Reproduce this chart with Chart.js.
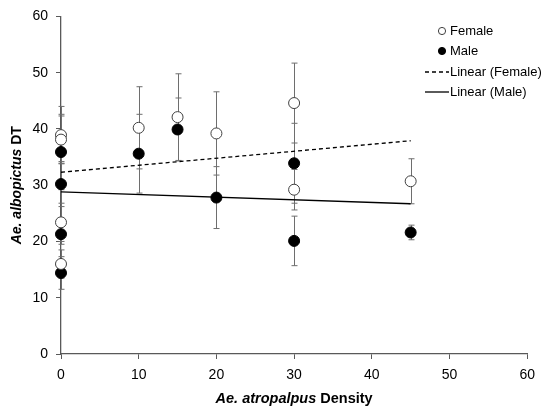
<!DOCTYPE html>
<html>
<head>
<meta charset="utf-8">
<script src="https://cdn.jsdelivr.net/npm/chart.js@4/dist/chart.umd.min.js"></script>
<style>
  body { margin: 0; background: #fff; }
  #wrap { width: 543px; height: 408px; }
</style>
</head>
<body>
<div id="wrap"><canvas id="myChart" width="543" height="408"></canvas></div>
<script>
// values
const femaleX = [0, 0, 0, 0, 10, 15, 20, 30, 30, 45];
const femaleY = [38.9, 38.1, 23.4, 16.0, 40.2, 42.1, 39.2, 44.6, 29.2, 30.7];
const femaleErr = [5.1, 4.2, 3.4, 2.5, 7.3, 7.7, 7.4, 7.1, 3.6, 4.0];

const maleX = [0, 0, 0, 0, 10, 15, 20, 30, 30, 45];
const maleY = [35.9, 30.2, 21.3, 14.4, 35.6, 39.9, 27.8, 33.9, 20.1, 21.6];
const maleErr = [6.7, 4.0, 1.8, 2.9, 7.0, 5.6, 5.5, 7.1, 4.4, 1.3];

// trendline ends
const trendX = [0, 45];
const femaleTrend = [32.3, 37.9];
const maleTrend = [28.8, 26.7];

const axisTicks = [0, 10, 20, 30, 40, 50, 60];

const FONT = "'Liberation Sans', Arial, sans-serif";
const AXIS_COLOR = '#595959';

function toPoints(xs, ys) {
  return xs.map((x, i) => ({ x: x, y: ys[i] }));
}

// error bars drawn under the markers
const errorBars = {
  id: 'errorBars',
  beforeDatasetsDraw(chart) {
    const ctx = chart.ctx;
    const xs = chart.scales.x;
    const ys = chart.scales.y;
    const sets = [[femaleX, femaleY, femaleErr], [maleX, maleY, maleErr]];
    ctx.save();
    ctx.strokeStyle = '#6e6e6e';
    ctx.lineWidth = 1;
    sets.forEach(s => {
      s[0].forEach((x, i) => {
        const px = Math.round(xs.getPixelForValue(x)) + 0.5;
        const top = ys.getPixelForValue(s[1][i] + s[2][i]);
        const bot = ys.getPixelForValue(s[1][i] - s[2][i]);
        ctx.beginPath();
        ctx.moveTo(px, top); ctx.lineTo(px, bot);
        ctx.moveTo(px - 3, top); ctx.lineTo(px + 3, top);
        ctx.moveTo(px - 3, bot); ctx.lineTo(px + 3, bot);
        ctx.stroke();
      });
    });
    ctx.restore();
  }
};

function drawParts(ctx, parts, cx, cy) {
  let total = 0;
  parts.forEach(p => { ctx.font = p.font; total += ctx.measureText(p.text).width; });
  let x = cx - total / 2;
  parts.forEach(p => {
    ctx.font = p.font;
    ctx.fillText(p.text, x, cy);
    x += ctx.measureText(p.text).width;
  });
}

// axis titles (mixed italic / normal) and the legend
const extras = {
  id: 'extras',
  afterDraw(chart) {
    const ctx = chart.ctx;
    const area = chart.chartArea;
    ctx.save();
    ctx.fillStyle = '#000';
    ctx.textBaseline = 'middle';
    ctx.textAlign = 'left';

    drawParts(ctx, [
      { text: 'Ae. atropalpus', font: 'italic bold 14.5px ' + FONT },
      { text: ' Density', font: 'bold 14.5px ' + FONT }
    ], (area.left + area.right) / 2, 399);

    ctx.save();
    ctx.translate(17, (area.top + area.bottom) / 2);
    ctx.rotate(-Math.PI / 2);
    drawParts(ctx, [
      { text: 'Ae. albopictus', font: 'italic bold 14px ' + FONT },
      { text: ' DT', font: 'bold 14px ' + FONT }
    ], 0, 0);
    ctx.restore();

    // legend
    const lx = 450;
    const rows = [31, 51, 72, 92];
    ctx.font = '13px ' + FONT;
    chart.data.datasets.forEach((ds, i) => {
      const y = rows[i];
      ctx.fillStyle = '#000';
      ctx.fillText(ds.label, lx, y);
      ctx.beginPath();
      if (ds.type === 'line') {
        ctx.strokeStyle = '#000';
        ctx.lineWidth = 1.3;
        ctx.setLineDash(ds.borderDash || []);
        ctx.moveTo(425, y); ctx.lineTo(449, y);
        ctx.stroke();
        ctx.setLineDash([]);
      } else {
        ctx.arc(442, y, 3.6, 0, Math.PI * 2);
        ctx.fillStyle = ds.backgroundColor;
        ctx.fill();
        ctx.strokeStyle = ds.borderColor;
        ctx.lineWidth = 1;
        ctx.stroke();
      }
    });
    ctx.restore();
  }
};

function axisOpts() {
  return {
    type: 'linear',
    min: 0,
    max: 60,
    afterBuildTicks: s => { s.ticks = axisTicks.map(v => ({ value: v })); },
    ticks: { color: '#000', padding: 8, font: { family: FONT, size: 14 } },
    grid: { drawOnChartArea: false, drawTicks: true, tickLength: 5, color: AXIS_COLOR },
    border: { display: true, color: AXIS_COLOR, width: 1.3 }
  };
}

const xOpts = axisOpts();
xOpts.afterFit = s => { s.height = 54; };
const yOpts = axisOpts();
yOpts.afterFit = s => { s.width = 61; };

const chartCtx = document.getElementById('myChart').getContext('2d');

const myChart = new Chart(chartCtx, {
  type: 'scatter',
  data: {
    datasets: [
      {
        label: 'Female',
        data: toPoints(femaleX, femaleY),
        backgroundColor: '#ffffff',
        borderColor: '#404040',
        borderWidth: 1,
        pointRadius: 5.5,
        clip: false
      },
      {
        label: 'Male',
        data: toPoints(maleX, maleY),
        backgroundColor: '#000000',
        borderColor: '#000000',
        borderWidth: 1,
        pointRadius: 5.5,
        clip: false
      },
      {
        type: 'line',
        label: 'Linear (Female)',
        data: toPoints(trendX, femaleTrend),
        borderColor: '#000',
        borderWidth: 1.3,
        borderDash: [4, 3],
        pointRadius: 0,
        fill: false
      },
      {
        type: 'line',
        label: 'Linear (Male)',
        data: toPoints(trendX, maleTrend),
        borderColor: '#000',
        borderWidth: 1.3,
        pointRadius: 0,
        fill: false
      }
    ]
  },
  options: {
    responsive: false,
    animation: false,
    layout: { padding: { top: 15, right: 10.5, left: 0, bottom: 0 } },
    plugins: { legend: { display: false }, tooltip: { enabled: false } },
    scales: { x: xOpts, y: yOpts }
  },
  plugins: [errorBars, extras]
});
</script>
</body>
</html>
